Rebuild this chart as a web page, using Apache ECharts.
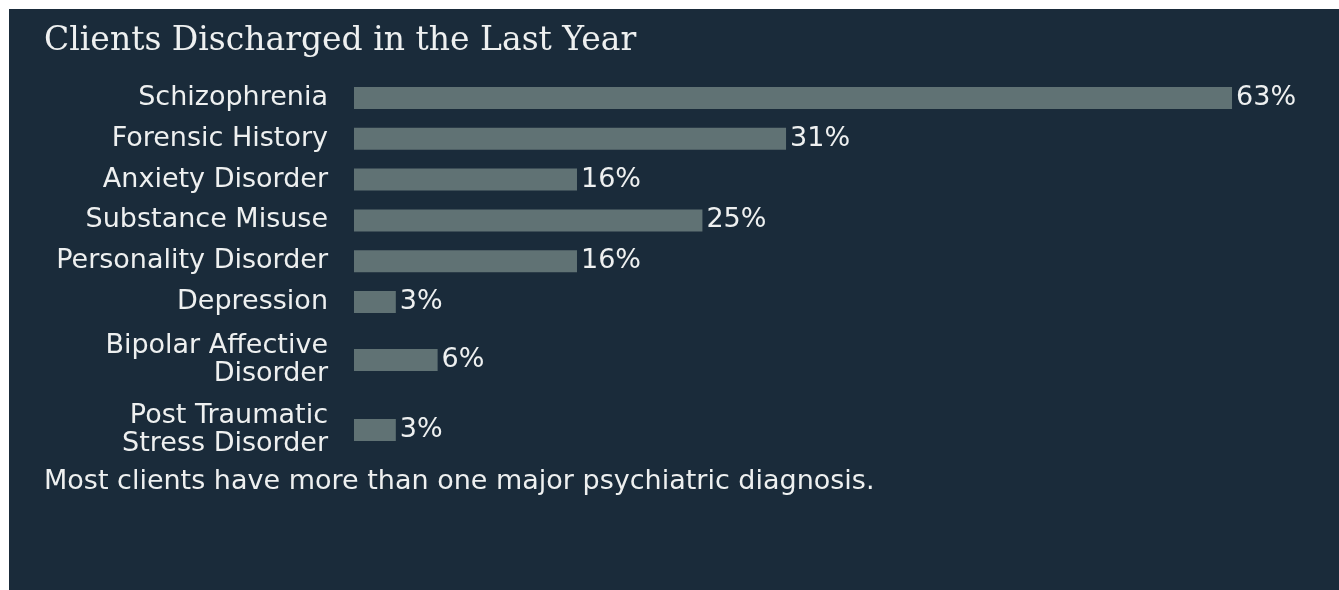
<!DOCTYPE html>
<html>
<head>
<meta charset="utf-8">
<script src="https://cdn.jsdelivr.net/npm/echarts@6/dist/echarts.min.js"></script>
<style>
  html, body { margin: 0; padding: 0; background: #ffffff; }
  #chart {
    position: absolute; left: 9px; top: 9px;
    width: 1330px; height: 581px;
    background: #1a2b3a;
  }
</style>
</head>
<body>
<div id="chart"></div>
<script>
// Diagnoses among discharged clients (percent of clients)
const categories = [
  'Schizophrenia',
  'Forensic History',
  'Anxiety Disorder',
  'Substance Misuse',
  'Personality Disorder',
  'Depression',
  'Bipolar Affective\nDisorder',
  'Post Traumatic\nStress Disorder'
];
const values = [63, 31, 16, 25, 16, 3, 6, 3];

const titleText = 'Clients Discharged in the Last Year';
const noteText = 'Most clients have more than one major psychiatric diagnosis.';

// Single-line rows sit in the upper block, two-line rows get taller rows below
const splitAt = 6;
const blocks = [
  { cats: categories.slice(0, splitAt), vals: values.slice(0, splitAt) },
  { cats: categories.slice(splitAt), vals: values.slice(splitAt) }
];

const SANS = '"DejaVu Sans", sans-serif';
const textColor = '#eef0f0';
const barColor = '#607274';

const gridBoxes = [
  { top: 68.6, height: 244.8 },
  { top: 316, height: 140 }
];

const chart = echarts.init(document.getElementById('chart'), null, { renderer: 'canvas' });

chart.setOption({
  backgroundColor: '#1a2b3a',
  animation: false,
  title: [
    {
      text: titleText,
      left: 35, top: 16, padding: 0,
      textStyle: {
        fontFamily: '"DejaVu Serif", serif',
        fontWeight: 'normal',
        fontSize: 33,
        color: textColor
      }
    },
    {
      text: noteText,
      left: 35, top: 459, padding: 0,
      textStyle: {
        fontFamily: SANS,
        fontWeight: 'normal',
        fontSize: 27,
        color: textColor
      }
    }
  ],
  grid: gridBoxes.map(g => ({
    left: 345, width: 975.6, top: g.top, height: g.height,
    containLabel: false
  })),
  xAxis: blocks.map((b, i) => ({
    type: 'value', gridIndex: i, min: 0, max: 70,
    show: false
  })),
  yAxis: blocks.map((b, i) => ({
    type: 'category', gridIndex: i, inverse: true,
    data: b.cats,
    axisLine: { show: false },
    axisTick: { show: false },
    splitLine: { show: false },
    axisLabel: {
      margin: 26,
      fontFamily: SANS,
      fontSize: 27,
      lineHeight: 28,
      color: textColor,
      align: 'right'
    }
  })),
  series: blocks.map((b, i) => ({
    type: 'bar',
    xAxisIndex: i, yAxisIndex: i,
    data: b.vals,
    barWidth: 22,
    itemStyle: { color: barColor },
    label: {
      show: true,
      position: 'right',
      distance: 4,
      formatter: '{c}%',
      fontFamily: SANS,
      fontSize: 27,
      color: textColor
    }
  }))
});
</script>
</body>
</html>
